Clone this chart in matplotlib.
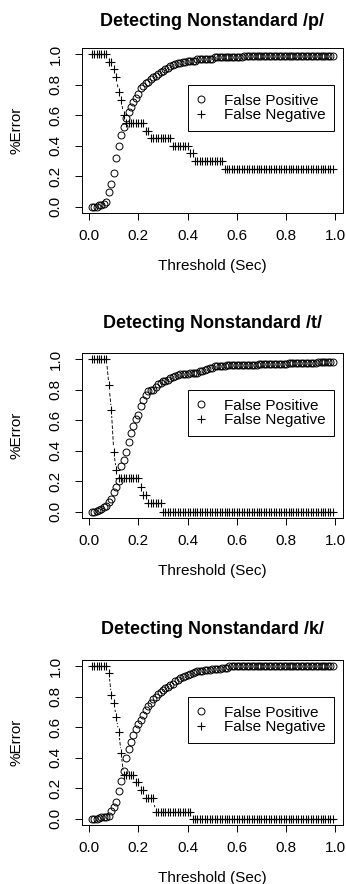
import numpy as np
import matplotlib
matplotlib.use("Agg")
import matplotlib.pyplot as plt
from matplotlib.lines import Line2D

plt.rcParams['font.family'] = ['Liberation Sans', 'DejaVu Sans']

# -------------------------------------------------
# Data
# -------------------------------------------------

thresh = np.round(np.arange(1, 100) * 0.01, 2)

titles = ['Detecting Nonstandard /p/',
          'Detecting Nonstandard /t/',
          'Detecting Nonstandard /k/']

fp_p = ([0.0, 0.0, 0.0, 0.01, 0.01, 0.02, 0.03,
         0.10, 0.15, 0.22, 0.32, 0.40, 0.47, 0.52, 0.58, 0.62, 0.655, 0.685, 0.71, 0.74,
         0.78, 0.79, 0.81, 0.82, 0.835, 0.85, 0.86, 0.87, 0.88, 0.89,
         0.90, 0.91, 0.92, 0.93, 0.935, 0.94, 0.945, 0.95, 0.95, 0.955,
         0.955, 0.955, 0.955]
        + [0.97] * 7 + [0.978] * 12 + [0.99] * 37)
fn_p = ([1.0] * 7
        + [0.95, 0.95, 0.90, 0.85, 0.75, 0.70, 0.60]
        + [0.55] * 8 + [0.50] * 2 + [0.45] * 9 + [0.40] * 7
        + [0.35] * 2 + [0.30] * 12 + [0.25] * 45)

fp_t = ([0.0, 0.0, 0.005, 0.013, 0.02, 0.03, 0.04,
         0.065, 0.085, 0.13, 0.16, 0.205, 0.30, 0.34, 0.39, 0.455, 0.515, 0.56, 0.61, 0.635,
         0.695, 0.73, 0.765, 0.79, 0.80, 0.80, 0.815, 0.835, 0.845, 0.855,
         0.86, 0.865, 0.875, 0.88, 0.89, 0.895, 0.90, 0.90, 0.90, 0.90]
        + [0.91] * 4 + [0.92, 0.925, 0.93, 0.935, 0.94, 0.945]
        + [0.955] * 5 + [0.96] * 13 + [0.967] * 12 + [0.975] * 12 + [0.983] * 7)
fn_t = ([1.0] * 7
        + [0.83, 0.67, 0.39, 0.275]
        + [0.22] * 9 + [0.165] + [0.11] * 2 + [0.055] * 6 + [0.0] * 70)

fp_k = ([0.0, 0.0, 0.0, 0.005, 0.01, 0.012, 0.015,
         0.02, 0.05, 0.08, 0.11, 0.18, 0.245, 0.315, 0.40, 0.46, 0.505, 0.55, 0.59, 0.62,
         0.65, 0.68, 0.71, 0.74, 0.76, 0.785, 0.80, 0.82, 0.83, 0.845,
         0.855, 0.865, 0.875, 0.885, 0.90, 0.91, 0.92, 0.93, 0.935, 0.945,
         0.95, 0.955, 0.96]
        + [0.965] * 3 + [0.975] * 3 + [0.98] * 4 + [0.99] * 3 + [0.998] * 43)
fn_k = ([1.0] * 7
        + [0.956, 0.81, 0.76, 0.665, 0.57, 0.43]
        + [0.285] * 5 + [0.24] * 2 + [0.19] * 2 + [0.14] * 4
        + [0.048] * 15 + [0.0] * 58)

fp_all = [fp_p, fp_t, fp_k]
fn_all = [fn_p, fn_t, fn_k]

ticks = [0.0, 0.2, 0.4, 0.6, 0.8, 1.0]
tick_labels = ['0.0', '0.2', '0.4', '0.6', '0.8', '1.0']

# -------------------------------------------------
# Layout (pixels of a 346x884 image)
# -------------------------------------------------

W, H = 346, 884
ax_left, ax_right = 82, 342.5
ax_h = 165
bottoms = [213, 518, 825]
title_y = [21, 323.5, 629.5]

fig = plt.figure(figsize=(W / 100, H / 100), dpi=100)

for i in range(3):
    b = bottoms[i]
    ax = fig.add_axes([ax_left / W, 1 - b / H, (ax_right - ax_left) / W, ax_h / H])

    # FN: type "b" look -> dashed line with gaps around each point
    ax.plot(thresh, fn_all[i], color='k', lw=0.65, ls=(0, (4, 2)), zorder=1)
    ax.plot(thresh, fn_all[i], 'o', ms=8, mfc='white', mec='none', zorder=1.5)
    ax.plot(thresh, fp_all[i], 'o', ms=5, mfc='none', mec='k', mew=0.7, zorder=3)
    ax.plot(thresh, fn_all[i], '+', ms=6, color='k', mew=0.8, zorder=3)

    ax.set_xlim(-0.0292, 1.0292)
    ax.set_ylim(-0.04, 1.04)
    ax.set_xticks(ticks)
    ax.set_xticklabels(tick_labels)
    ax.set_yticks(ticks)
    ax.set_yticklabels(tick_labels)
    ax.tick_params(axis='both', direction='out', length=4.8, width=0.7,
                   labelsize=11, color='k')
    ax.tick_params(axis='x', pad=6.5)
    ax.tick_params(axis='y', pad=9, labelrotation=90)
    for lab in ax.get_yticklabels():
        lab.set_va('center')
    for sp in ax.spines.values():
        sp.set_linewidth(0.7)
        sp.set_color('k')

    handles = [Line2D([], [], ls='none', marker='o', ms=5, mfc='none', mec='k', mew=0.7),
               Line2D([], [], ls='none', marker='+', ms=6, color='k', mew=0.8)]
    leg = ax.legend(handles, ['False Positive', 'False Negative'],
                    loc='upper left', bbox_to_anchor=(0.402, 0.797),
                    bbox_transform=ax.transData, borderaxespad=0,
                    fancybox=False, framealpha=1, edgecolor='k',
                    borderpad=0.55, labelspacing=0.05, handlelength=0.65,
                    handletextpad=1.15, fontsize=11)
    leg.get_frame().set_linewidth(0.7)
    leg.set_zorder(5)

    cx = (ax_left + ax_right) / 2 / W
    fig.text(cx, 1 - title_y[i] / H, titles[i], ha='center', va='center',
             fontsize=13, fontweight='bold')
    fig.text(cx, 1 - (b + 53) / H, 'Threshold (Sec)', ha='center', va='center',
             fontsize=11)
    fig.text(16.7 / W, 1 - (b - ax_h / 2) / H, '%Error', ha='center', va='center',
             rotation=90, fontsize=11)

fig.savefig('out.png', dpi=100)
